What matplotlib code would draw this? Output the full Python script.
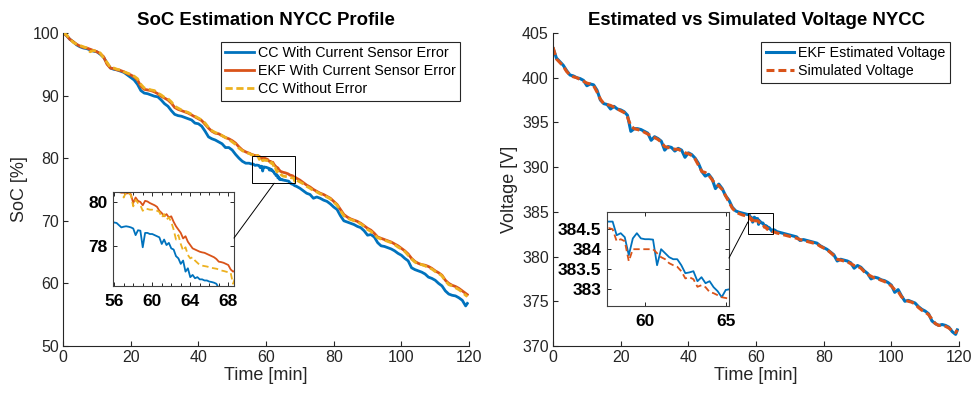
import numpy as np
import matplotlib
matplotlib.use("Agg")
import matplotlib.pyplot as plt
from matplotlib.patches import Rectangle, ConnectionPatch

plt.rcParams['font.family'] = ['Liberation Sans', 'DejaVu Sans']

# ---------------- SoC data (left chart) ----------------
# sample times [min]: 0..54 every 1, 55..69 every 0.25, 70..119 every 1 and 119.5
soc_t_a = np.arange(0, 55, 1.0)
soc_t_f = np.arange(55, 69.01, 0.25)
soc_t_b = np.append(np.arange(70, 120, 1.0), 119.5)

cc_err_a = [100.0, 99.6, 99.0, 98.6, 98.1, 97.8, 97.6, 97.5, 97.3, 97.1,
            97.0, 96.6, 96.1, 95.2, 94.4, 94.2, 94.1, 93.9, 93.7, 93.3,
            92.9, 92.5, 91.8, 90.8, 90.4, 90.3, 90.1, 89.9, 89.8, 89.3,
            88.7, 88.3, 87.6, 87.0, 86.8, 86.7, 86.5, 86.3, 86.1, 85.6,
            85.5, 85.1, 84.3, 83.4, 83.1, 82.9, 82.6, 82.3, 81.7, 81.7,
            81.3, 80.6, 80.0, 79.5, 79.2]
cc_err_f = [79.2, 79.15, 79.1, 79.08, 79.07, 79.05, 78.95, 78.85, 78.88, 78.9,
            78.88, 78.85, 78.8, 78.5, 78.72, 78.7, 77.95, 78.6, 78.6, 78.55,
            78.55, 78.5, 78.45, 78.4, 78.1, 78.3, 78.05, 78.15, 77.9, 77.85,
            77.55, 77.45, 77.2, 77.35, 76.85, 77.0, 76.6, 76.7, 76.55, 76.6,
            76.5, 76.5, 76.45, 76.45, 76.4, 76.38, 76.35, 76.3, 76.1, 76.0,
            75.9, 75.85, 75.8, 75.7, 75.6, 75.55, 75.5]
cc_err_b = [75.2, 74.8, 74.4, 74.2, 73.6, 73.8, 73.6, 73.3, 73.1, 72.7,
            72.2, 71.8, 70.8, 70.0, 69.8, 69.6, 69.4, 69.1, 68.9, 68.4,
            67.7, 67.8, 67.4, 66.5, 66.0, 65.9, 65.7, 65.5, 65.2, 64.8,
            64.5, 64.0, 63.6, 62.5, 62.2, 62.0, 61.8, 61.5, 61.0, 60.8,
            60.5, 60.0, 59.6, 58.8, 58.3, 58.1, 58.0, 57.7, 57.3, 56.4,
            56.8]

ekf_a = [100.0, 99.6, 99.0, 98.6, 98.2, 97.9, 97.7, 97.6, 97.4, 97.2,
         97.0, 96.7, 96.2, 95.0, 94.4, 94.3, 94.1, 94.0, 93.8, 93.5,
         93.3, 93.0, 92.5, 91.5, 91.0, 90.9, 90.8, 90.6, 90.3, 89.9,
         89.6, 89.3, 88.8, 88.1, 87.8, 87.6, 87.4, 87.2, 86.9, 86.6,
         86.3, 86.0, 85.4, 84.8, 84.3, 84.0, 83.9, 83.6, 83.3, 83.1,
         82.8, 82.4, 81.8, 81.3, 81.0]
ekf_f = [80.8, 80.75, 80.65, 80.6, 80.55, 80.5, 80.45, 80.42, 80.42, 80.38,
         80.4, 80.35, 79.95, 80.2, 80.05, 80.0, 79.85, 80.05, 80.02, 79.95,
         79.9, 79.85, 79.78, 79.6, 79.5, 79.35, 79.45, 79.3, 79.35, 79.1,
         78.9, 78.75, 78.6, 78.35, 78.45, 78.2, 78.05, 77.9, 77.85, 77.8,
         77.75, 77.72, 77.7, 77.65, 77.6, 77.55, 77.5, 77.42, 77.3, 77.28,
         77.25, 77.2, 77.15, 76.95, 76.85, 76.9, 76.8]
ekf_b = [76.5, 76.1, 75.7, 75.4, 75.0, 74.7, 74.4, 74.2, 73.9, 73.6,
         73.1, 72.6, 71.8, 71.0, 70.6, 70.3, 70.1, 69.9, 69.6, 69.2,
         68.8, 68.5, 68.0, 67.4, 67.2, 67.0, 66.8, 66.6, 66.3, 66.0,
         65.6, 65.2, 64.7, 64.0, 63.5, 63.2, 63.0, 62.9, 62.7, 62.4,
         62.0, 61.7, 61.3, 60.5, 60.0, 59.7, 59.5, 59.2, 58.8, 58.4,
         58.2]

cc_true_a = [100.0, 99.7, 99.1, 98.5, 98.2, 98.0, 97.8, 97.6, 97.0, 97.2,
             97.1, 96.8, 96.0, 95.3, 94.5, 94.4, 94.2, 94.1, 93.8, 93.6,
             93.4, 93.1, 92.7, 91.8, 91.2, 91.1, 90.9, 90.8, 90.4, 90.1,
             89.7, 89.5, 89.0, 88.3, 88.0, 87.7, 87.5, 87.3, 87.0, 86.7,
             86.4, 86.1, 85.6, 84.9, 84.4, 84.1, 83.9, 83.6, 83.3, 83.0,
             82.6, 82.2, 81.6, 81.2, 80.9]
cc_true_f = [80.75, 80.7, 80.6, 80.55, 80.5, 80.5, 80.48, 80.45, 80.2, 80.45,
             80.42, 80.3, 79.8, 80.1, 79.95, 79.85, 79.6, 79.7, 79.68, 79.65,
             79.65, 79.62, 79.6, 79.55, 79.3, 79.45, 79.2, 79.3, 79.1, 78.75,
             78.3, 78.5, 78.1, 77.8, 77.95, 77.6, 77.45, 77.5, 77.35, 77.25,
             77.15, 77.12, 77.1, 77.08, 77.05, 77.02, 77.0, 76.98, 76.95, 76.9,
             76.88, 76.85, 76.82, 76.8, 76.3, 76.6, 76.5]
cc_true_b = [76.2, 75.9, 75.5, 75.2, 74.8, 74.6, 74.3, 74.1, 73.8, 73.5,
             73.0, 72.5, 71.6, 70.8, 70.4, 70.2, 70.0, 69.8, 69.5, 69.1,
             68.6, 68.3, 67.8, 67.3, 67.1, 66.9, 66.7, 66.5, 66.2, 65.8,
             65.5, 65.1, 64.5, 63.9, 63.4, 63.1, 63.0, 62.8, 62.5, 62.3,
             61.9, 61.6, 61.2, 60.4, 59.8, 59.6, 59.3, 59.0, 58.6, 58.1,
             57.9]

# ---------------- Voltage data (right chart) ----------------
v_t_a = np.arange(0, 57, 1.0)
v_t_f = np.arange(57, 66, 0.25)
v_t_b = np.append(np.arange(66, 120, 1.0), 119.5)

v_ekf_a = [403.3, 402.2, 401.8, 401.4, 400.8, 400.3, 400.2, 400.0, 399.9, 399.7,
           399.1, 399.3, 399.2, 398.6, 397.5, 397.1, 397.0, 396.5, 396.8, 396.5,
           396.4, 396.2, 395.8, 394.0, 394.3, 394.3, 394.2, 394.0, 393.8, 393.0,
           393.4, 393.2, 392.9, 391.9, 392.3, 392.2, 391.8, 392.1, 391.9, 391.1,
           391.6, 391.4, 391.0, 390.4, 389.5, 389.0, 389.2, 388.7, 387.6, 388.1,
           387.6, 386.8, 386.3, 385.5, 385.1, 384.95, 384.85]
v_ekf_f = [384.75, 384.72, 384.7, 384.69, 384.69, 384.35, 384.4, 384.3, 383.85, 384.27,
           384.4, 384.27, 384.25, 384.25, 384.24, 383.6, 384.0, 383.9, 383.8, 383.75,
           383.75, 383.6, 383.4, 383.42, 383.45, 383.2, 383.3, 383.15, 383.2, 383.05,
           382.95, 382.8, 382.98, 383.0, 382.95, 382.9]
v_ekf_b = [382.8, 382.7, 382.6, 382.5, 382.4, 382.3, 382.2, 381.8, 381.9, 381.8,
           381.7, 381.6, 381.5, 381.2, 381.0, 380.8, 380.5, 380.2, 379.5, 379.7,
           379.6, 379.5, 379.3, 378.7, 379.0, 378.8, 378.4, 378.1, 377.5, 377.7,
           377.6, 377.4, 377.3, 377.1, 376.8, 376.0, 376.3, 375.6, 375.0, 375.1,
           374.95, 374.8, 374.4, 374.1, 373.9, 373.6, 372.8, 372.5, 372.3, 372.4,
           372.3, 372.1, 371.6, 371.3, 371.8]

v_sim_a = [403.4, 402.1, 401.7, 401.3, 400.7, 400.3, 400.1, 400.0, 399.8, 399.6,
           399.4, 399.3, 399.1, 398.4, 397.6, 397.1, 397.0, 396.9, 396.7, 396.5,
           396.3, 396.1, 395.6, 394.6, 394.3, 394.2, 394.1, 393.9, 393.7, 393.5,
           393.3, 393.1, 392.8, 392.3, 392.2, 392.1, 392.0, 392.0, 391.8, 391.6,
           391.5, 391.3, 390.9, 390.2, 389.5, 389.4, 389.1, 388.6, 388.1, 387.9,
           387.5, 386.8, 386.1, 385.4, 385.0, 384.8, 384.65]
v_sim_f = [384.55, 384.53, 384.53, 384.53, 384.5, 384.2, 384.25, 384.2, 383.7, 384.0,
           384.0, 384.0, 384.0, 384.0, 384.0, 383.9, 383.8, 383.75, 383.65, 383.6,
           383.56, 383.45, 383.27, 383.3, 383.25, 383.06, 383.1, 383.05, 382.93, 382.9,
           382.85, 382.8, 382.78, 382.76, 382.72, 382.7]
v_sim_b = [382.65, 382.55, 382.45, 382.35, 382.25, 382.15, 382.05, 381.9, 381.8, 381.7,
           381.6, 381.5, 381.4, 381.15, 380.95, 380.75, 380.45, 380.1, 379.7, 379.6,
           379.5, 379.4, 379.2, 379.0, 378.9, 378.7, 378.3, 378.0, 377.8, 377.6,
           377.5, 377.35, 377.2, 377.0, 376.7, 376.3, 376.1, 375.5, 375.2, 375.0,
           374.9, 374.7, 374.3, 374.0, 373.8, 373.5, 373.0, 372.5, 372.3, 372.3,
           372.2, 372.0, 371.7, 371.5, 371.8]

soc_labels = ['CC With Current Sensor Error', 'EKF With Current Sensor Error', 'CC Without Error']
v_labels = ['EKF Estimated Voltage', 'Simulated Voltage']

# ---------------- assemble ----------------
soc_t = np.concatenate([soc_t_a, soc_t_f, soc_t_b])
cc_err = np.concatenate([cc_err_a, cc_err_f, cc_err_b])
ekf = np.concatenate([ekf_a, ekf_f, ekf_b])
cc_true = np.concatenate([cc_true_a, cc_true_f, cc_true_b])
v_t = np.concatenate([v_t_a, v_t_f, v_t_b])
v_ekf = np.concatenate([v_ekf_a, v_ekf_f, v_ekf_b])
v_sim = np.concatenate([v_sim_a, v_sim_f, v_sim_b])

BLUE = '#0072BD'
ORANGE = '#D95319'
YELLOW = '#EDB120'
AX = '#262626'

fig = plt.figure(figsize=(9.79, 3.97), dpi=100)

def style_main(ax):
    for s in ['top', 'right']:
        ax.spines[s].set_visible(False)
    for s in ['left', 'bottom']:
        ax.spines[s].set_color(AX)
        ax.spines[s].set_linewidth(0.8)
    ax.tick_params(direction='in', length=3.5, width=0.8, colors=AX,
                   labelsize=11.5, pad=3)

def style_inset(ax):
    for s in ax.spines.values():
        s.set_color('#404040')
        s.set_linewidth(0.8)
    ax.tick_params(which='both', direction='in', top=True, right=True,
                   width=0.7, colors=AX, labelsize=12.5)
    ax.tick_params(axis='x', which='major', length=3, pad=6)
    ax.tick_params(axis='y', which='major', length=3, pad=4)
    ax.tick_params(which='minor', length=2)
    for lab in ax.get_xticklabels() + ax.get_yticklabels():
        lab.set_fontweight('bold')
        lab.set_color('black')

# ---------------- left chart ----------------
ax1 = fig.add_axes([0.0644, 0.1285, 0.4147, 0.7884])
dash = (2.6, 1.3)
ax1.plot(soc_t, cc_err, color=BLUE, lw=2.0, label=soc_labels[0])
ax1.plot(soc_t, ekf, color=ORANGE, lw=2.0, label=soc_labels[1])
ax1.plot(soc_t, cc_true, color=YELLOW, lw=2.0, ls=(0, dash), label=soc_labels[2])
ax1.set_xlim(0, 120)
ax1.set_ylim(50, 100)
ax1.set_xticks([0, 20, 40, 60, 80, 100, 120])
ax1.set_yticks([50, 60, 70, 80, 90, 100])
style_main(ax1)
ax1.set_xlabel('Time [min]', fontsize=13, color=AX, labelpad=1)
ax1.set_ylabel('SoC [%]', fontsize=13, color=AX, labelpad=3)
ax1.set_title('SoC Estimation NYCC Profile', fontsize=13.4, fontweight='bold', pad=6)
leg1 = ax1.legend(loc='upper right', bbox_to_anchor=(0.978, 0.971), borderaxespad=0,
                  fontsize=10.3, handlelength=2.0, handletextpad=0.3, labelspacing=0.28,
                  borderpad=0.3, fancybox=False, framealpha=1, edgecolor=AX)
leg1.get_frame().set_linewidth(0.8)

# zoom rectangle on main
ax1.add_patch(Rectangle((55.9, 76.0), 12.7, 4.35, fill=False, ec='black', lw=0.7, zorder=5))

ins1 = fig.add_axes([0.1157, 0.2796, 0.1233, 0.2368])
ins1.plot(soc_t, cc_err, color=BLUE, lw=1.3)
ins1.plot(soc_t, ekf, color=ORANGE, lw=1.3)
ins1.plot(soc_t, cc_true, color=YELLOW, lw=1.3, ls=(0, (3.5, 2.0)))
ins1.set_xlim(55.9, 68.6)
ins1.set_ylim(76.2, 80.45)
ins1.set_xticks([56, 60, 64, 68])
ins1.set_xticks(np.arange(56, 69, 1), minor=True)
ins1.set_yticks([78, 80])
style_inset(ins1)
fig.add_artist(ConnectionPatch(xyA=(1.0, 0.51), coordsA=ins1.transAxes,
                               xyB=(62.4, 76.0), coordsB=ax1.transData,
                               color='black', lw=0.7))

# ---------------- right chart ----------------
ax2 = fig.add_axes([0.5649, 0.1285, 0.4147, 0.7884])
ax2.plot(v_t, v_ekf, color=BLUE, lw=2.2, label=v_labels[0])
ax2.plot(v_t, v_sim, color=ORANGE, lw=2.2, ls=(0, dash), label=v_labels[1])
ax2.set_xlim(0, 120)
ax2.set_ylim(370, 405)
ax2.set_xticks([0, 20, 40, 60, 80, 100, 120])
ax2.set_yticks([370, 375, 380, 385, 390, 395, 400, 405])
style_main(ax2)
ax2.set_xlabel('Time [min]', fontsize=13, color=AX, labelpad=1)
ax2.set_ylabel('Voltage [V]', fontsize=13, color=AX, labelpad=3)
ax2.set_title('Estimated vs Simulated Voltage NYCC', fontsize=13.4, fontweight='bold', pad=6)
leg2 = ax2.legend(loc='upper right', bbox_to_anchor=(0.978, 0.971), borderaxespad=0,
                  fontsize=10.3, handlelength=2.0, handletextpad=0.3, labelspacing=0.28,
                  borderpad=0.3, fancybox=False, framealpha=1, edgecolor=AX)
leg2.get_frame().set_linewidth(0.8)

ax2.add_patch(Rectangle((57.6, 382.5), 7.4, 2.4, fill=False, ec='black', lw=0.7, zorder=5))

ins2 = fig.add_axes([0.6200, 0.2292, 0.1246, 0.2368])
ins2.plot(v_t, v_ekf, color=BLUE, lw=1.3)
ins2.plot(v_t, v_sim, color=ORANGE, lw=1.3, ls=(0, (3.5, 2.0)))
ins2.set_xlim(57.65, 65.2)
ins2.set_ylim(382.58, 384.93)
ins2.set_xticks([60, 65])
ins2.set_yticks([383, 383.5, 384, 384.5])
ins2.set_yticklabels(['383', '383.5', '384', '384.5'])
style_inset(ins2)
fig.add_artist(ConnectionPatch(xyA=(1.0, 0.51), coordsA=ins2.transAxes,
                               xyB=(57.6, 383.87), coordsB=ax2.transData,
                               color='black', lw=0.7))

fig.savefig('out.png', dpi=100)
